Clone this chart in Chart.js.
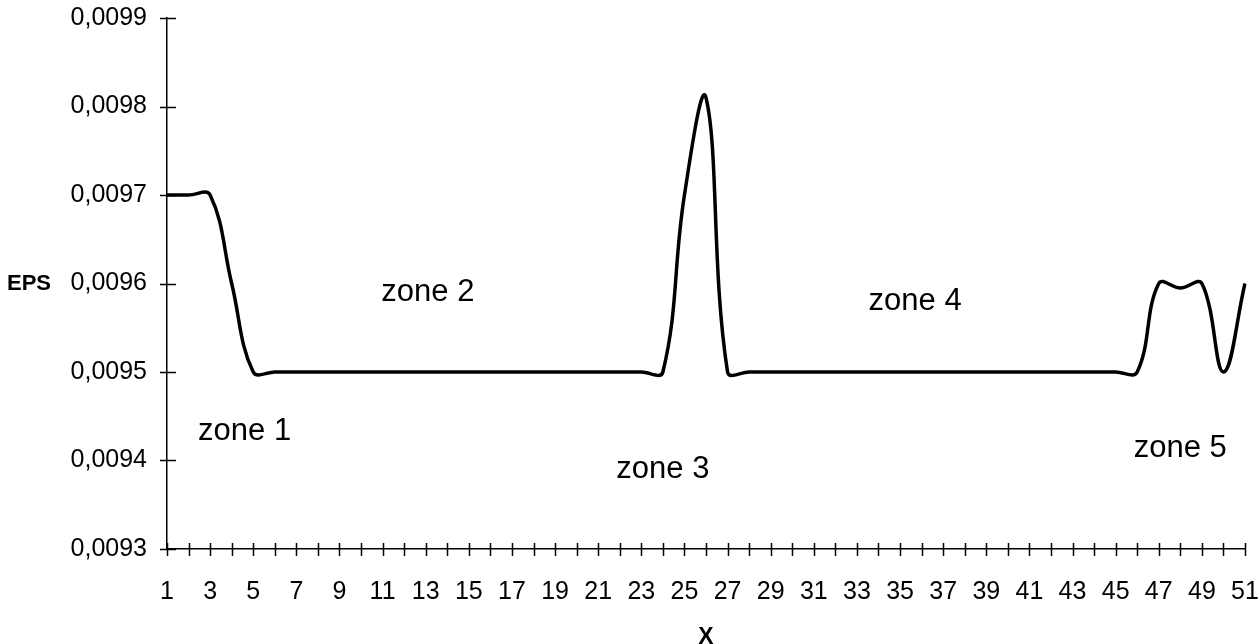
<!DOCTYPE html>
<html lang="en">
<head>
<meta charset="UTF-8">
<script src="https://cdn.jsdelivr.net/npm/chart.js"></script>
<title>EPS</title>
<style>
  html, body { margin: 0; padding: 0; background: #fff; }
  #epsChart { display: block; }
</style>
</head>
<body>
<canvas id="epsChart" width="1258" height="644"></canvas>
<script>
// x positions 1..51
const positions = [
  '1', '2', '3', '4', '5', '6', '7', '8', '9', '10',
  '11', '12', '13', '14', '15', '16', '17', '18', '19', '20',
  '21', '22', '23', '24', '25', '26', '27', '28', '29', '30',
  '31', '32', '33', '34', '35', '36', '37', '38', '39', '40',
  '41', '42', '43', '44', '45', '46', '47', '48', '49', '50', '51'
];

// EPS value at each position
const eps = [
  0.0097, 0.0097, 0.0097, 0.0096, 0.0095,
  0.0095, 0.0095, 0.0095, 0.0095, 0.0095, 0.0095, 0.0095, 0.0095, 0.0095, 0.0095,
  0.0095, 0.0095, 0.0095, 0.0095, 0.0095, 0.0095, 0.0095, 0.0095, 0.0095,
  0.0097, 0.00981, 0.0095,
  0.0095, 0.0095, 0.0095, 0.0095, 0.0095, 0.0095, 0.0095, 0.0095, 0.0095, 0.0095,
  0.0095, 0.0095, 0.0095, 0.0095, 0.0095, 0.0095, 0.0095, 0.0095, 0.0095,
  0.0096, 0.009595, 0.0096, 0.0095, 0.0096
];

// y axis ticks
const yTicks = [0.0093, 0.0094, 0.0095, 0.0096, 0.0097, 0.0098, 0.0099];

// zone captions, placed at (position, EPS)
const zoneNames = ['zone 1', 'zone 2', 'zone 3', 'zone 4', 'zone 5'];
const zoneX = [4.6, 13.1, 24.0, 35.7, 48.0];
const zoneY = [0.009433, 0.00959, 0.00939, 0.00958, 0.009414];

const FONT = '"Liberation Sans", Arial, sans-serif';

// crossing tick marks, the horizontal EPS title and the zone captions
const extras = {
  id: 'extras',
  afterDraw(chart) {
    const { ctx, chartArea, scales: { x, y } } = chart;
    ctx.save();
    ctx.strokeStyle = '#000';
    ctx.lineWidth = 1.5;
    ctx.beginPath();
    y.ticks.forEach((t, i) => {
      const py = Math.round(y.getPixelForTick(i)) + 0.5;
      ctx.moveTo(chartArea.left - 7, py);
      ctx.lineTo(chartArea.left + 9, py);
    });
    x.ticks.forEach((t, i) => {
      const px = Math.round(x.getPixelForTick(i)) + 0.5;
      ctx.moveTo(px, chartArea.bottom - 6);
      ctx.lineTo(px, chartArea.bottom + 7);
    });
    ctx.stroke();

    ctx.fillStyle = '#000';
    ctx.font = 'bold 22px ' + FONT;
    ctx.textAlign = 'left';
    ctx.textBaseline = 'middle';
    ctx.fillText('EPS', 7, (chartArea.top + chartArea.bottom) / 2);

    ctx.font = '31px ' + FONT;
    ctx.textAlign = 'center';
    zoneNames.forEach((name, i) => {
      ctx.fillText(name, x.getPixelForValue(zoneX[i] - 1), y.getPixelForValue(zoneY[i]));
    });
    ctx.restore();
  }
};

const ctx = document.getElementById('epsChart').getContext('2d');

const epsChart = new Chart(ctx, {
  type: 'line',
  data: {
    labels: positions,
    datasets: [{
      data: eps,
      borderColor: '#000',
      borderWidth: 3.5,
      pointRadius: 0,
      tension: 0.4,
      fill: false
    }]
  },
  options: {
    responsive: false,
    animation: false,
    layout: { padding: { top: 18, right: 13, left: 0, bottom: 0 } },
    plugins: {
      legend: { display: false },
      tooltip: { enabled: false }
    },
    scales: {
      x: {
        grid: { display: false },
        border: { display: true, color: '#000', width: 1.5 },
        ticks: {
          autoSkip: false,
          maxRotation: 0,
          padding: 20,
          color: '#000',
          font: { family: FONT, size: 25 },
          callback: (v, i) => (i % 2 === 0 ? positions[i] : '')
        },
        title: {
          display: true,
          text: 'X',
          color: '#000',
          padding: { top: 0, bottom: -5 },
          font: { family: FONT, size: 23, weight: 'bold', lineHeight: 1 }
        },
        afterFit: s => {
          s.height = 95;
          s.paddingLeft = 0;
          s.paddingRight = 0;
        }
      },
      y: {
        min: 0.0093,
        max: 0.0099,
        grid: { display: false },
        border: { display: true, color: '#000', width: 1.5 },
        ticks: {
          padding: 12,
          color: '#000',
          font: { family: FONT, size: 25 },
          callback: v => v.toFixed(4).replace('.', ',')
        },
        afterBuildTicks: s => { s.ticks = yTicks.map(v => ({ value: v })); },
        afterFit: s => {
          s.width = 167;
          s.paddingTop = 0;
          s.paddingBottom = 0;
        }
      }
    }
  },
  plugins: [extras]
});
</script>
</body>
</html>
